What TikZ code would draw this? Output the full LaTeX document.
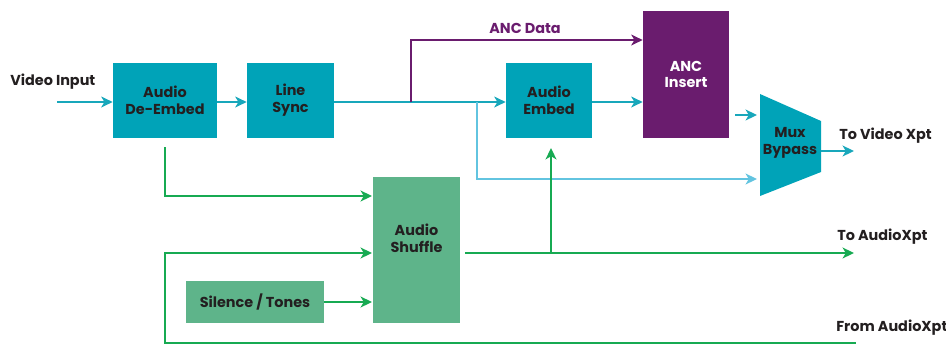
\documentclass[tikz,border=0pt]{standalone}
\usepackage{fontspec}
\setmainfont{Poppins}
\usepackage{tikz}
\usetikzlibrary{arrows.meta}
\usetikzlibrary{positioning}
\usepackage{xcolor}
\definecolor{boxteal}{HTML}{00A3B8}
\definecolor{lineteal}{HTML}{18A7BB}
\definecolor{lineblue}{HTML}{62C4E0}
\definecolor{linegreen}{HTML}{17AA52}
\definecolor{boxgreen}{HTML}{5EB48A}
\definecolor{ancpurple}{HTML}{6A1C6E}
\definecolor{txtdark}{HTML}{231F20}

\begin{document}
\begin{tikzpicture}[x=0.02cm,y=-0.02cm,
  font=\fontsize{8.2}{9.6}\selectfont\bfseries,
  blk/.style={inner sep=0pt,align=center,text=txtdark},
  tealbox/.style={blk,fill=boxteal},
  greenbox/.style={blk,fill=boxgreen},
  ancbox/.style={blk,fill=ancpurple,text=white},
  lbl/.style={inner sep=0pt,anchor=west,text=txtdark},
  tip/.style={-{Stealth[length=6.5pt,width=6.2pt,inset=1.8pt]}},
  tline/.style={tip,draw=lineteal,line width=0.85pt},
  bline/.style={tip,draw=lineblue,line width=0.8pt},
  gline/.style={tip,draw=linegreen,line width=0.85pt},
  pline/.style={tip,draw=ancpurple,line width=0.85pt}]
\useasboundingbox (0,0) rectangle (946,345);

\node[tealbox,minimum width=2.08cm,minimum height=1.5cm] (deembed) at (165,100.5) {Audio\\De-Embed};
\node[tealbox,minimum width=1.74cm,minimum height=1.5cm] (linesync) at (290.5,100.5) {Line\\Sync};
\node[tealbox,minimum width=1.72cm,minimum height=1.5cm] (embed) at (549,100.5) {Audio\\Embed};
\node[ancbox,minimum width=1.72cm,minimum height=2.54cm] (ancins) at (686,74.5) {ANC\\Insert};
\node[greenbox,minimum width=1.74cm,minimum height=2.92cm] (shuffle) at (416.5,250) {Audio\\Shuffle\\[0.12cm]};
\node[greenbox,minimum width=2.76cm,minimum height=0.84cm] (silence) at (255,302) {Silence / Tones};
\fill[boxteal] (760,94) -- (821,121) -- (821,172) -- (760,196) -- cycle;
\node[blk] (mux) at (790,143) {Mux\\Bypass};

\node[lbl] (vidin) at (10,82) {Video Input};
\node[inner sep=0pt,text=ancpurple] (ancdata) at (525,28) {ANC Data};
\node[lbl] (toxpt) at (839,136) {To Video Xpt};
\node[lbl] (toaud) at (837,237) {To AudioXpt};
\node[lbl] (fromaud) at (836,328) {From AudioXpt};

\coordinate (vinstart) at (57,102);
\coordinate (ancrow) at (0,40);
\coordinate (ancsplit) at (411,102);
\coordinate (bypsplit) at (477,102);
\coordinate (muxin1) at (757,179);
\coordinate (ancout) at (735,115);
\coordinate (muxin0) at (757,115);
\coordinate (muxout) at (821,151);
\coordinate (vidxpt) at (854,151);
\coordinate (deaud) at (165,147);
\coordinate (shufin1) at (372,196);
\coordinate (shufin2) at (372,253);
\coordinate (loopcorner) at (165,343);
\coordinate (fromxpt) at (856,343);
\coordinate (shufout) at (465,253);
\coordinate (audxpt) at (854,253);
\coordinate (embsplit) at (551,253);
\coordinate (embin) at (551,148);

\draw[tline] (vinstart) -- (vinstart -| deembed.west);
\draw[tline] (deembed.east |- vinstart) -- (vinstart -| linesync.west);
\draw[tline] (linesync.east |- vinstart) -- (vinstart -| embed.west);
\draw[tline] (embed.east |- vinstart) -- (vinstart -| ancins.west);
\draw[pline] (ancsplit) |- (ancins.west |- ancrow);
\draw[bline] (bypsplit) |- (muxin1);
\draw[tline] (ancout) -- (muxin0);
\draw[tline] (muxout) -- (vidxpt);
\draw[gline] (deaud) |- (shufin1);
\draw[gline,{Stealth[length=6.5pt,width=6.2pt,inset=1.8pt]}-] (shufin2) -| (loopcorner) -- (fromxpt);
\draw[gline] (silence.east) -- (silence.east -| shufin1);
\draw[gline] (shufout) -- (audxpt);
\draw[gline] (embsplit) -- (embin);
\end{tikzpicture}
\end{document}
